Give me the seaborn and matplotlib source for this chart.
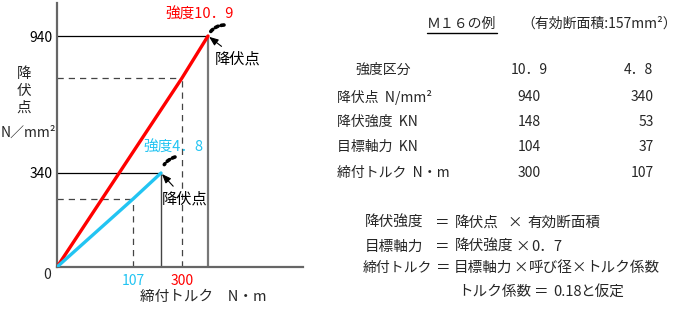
import numpy as np
import pandas as pd
import matplotlib
matplotlib.use("Agg")
import matplotlib.pyplot as plt
from matplotlib.lines import Line2D
import seaborn as sns

# ---------------- data ----------------
grades = ["10．9", "4．8"]
grade_labels = ["強度10．9", "強度4．8"]
yield_point = [940, 340]          # N/mm2
yield_strength = [148, 53]        # kN
target_force = [104, 37]          # kN
tightening_torque = [300, 107]    # N·m
target_stress = [658, 238]        # N/mm2 at target axial force (0.7 x yield)
yield_torque = [429, 153]         # N·m at yield (schematic, unlabeled)

row_labels = ["降伏点  N/mm²", "降伏強度  KN", "目標軸力  KN", "締付トルク  N・m"]
col_values = [
    [yield_point[0], yield_strength[0], target_force[0], tightening_torque[0]],
    [yield_point[1], yield_strength[1], target_force[1], tightening_torque[1]],
]

# ---------------- style / layout ----------------
W, H = 684, 316
colors = {"10．9": "#ff0000", "4．8": "#22c4f2"}

sns.set_theme(style="white")
plt.rcParams["font.family"] = ["Noto Sans CJK JP", "DejaVu Sans"]

fig = plt.figure(figsize=(W / 100, H / 100), dpi=100)
ax = fig.add_axes([57 / W, 49 / H, 246 / W, 264 / H])

# schematic (not-to-scale) axes: piecewise linear mapping value -> pixel
x_knots_val = [0, 107, 153, 300, 429, 800]
x_knots_px = [0, 76, 104, 125, 151, 246]
y_knots_val = [0, 238, 340, 658, 940, 1100]
y_knots_px = [0, 68, 94, 189, 231, 264]


def fx(v):
    return np.interp(v, x_knots_val, x_knots_px)


def fx_inv(p):
    return np.interp(p, x_knots_px, x_knots_val)


def fy(v):
    return np.interp(v, y_knots_val, y_knots_px)


def fy_inv(p):
    return np.interp(p, y_knots_px, y_knots_val)


ax.set_xscale("function", functions=(fx, fx_inv))
ax.set_yscale("function", functions=(fy, fy_inv))

# reference lines
for g, yp, yt, tt, ts in zip(grades, yield_point, yield_torque, tightening_torque, target_stress):
    ax.plot([0, yt * 0.985], [yp, yp], color="black", lw=0.9, zorder=2)
    ax.plot([yt, yt], [0, yp], color="#777777" if g == "10．9" else "#444444",
            lw=1.6 if g == "10．9" else 1.0, zorder=2)
    ax.plot([0, tt], [ts, ts], color="#444444", lw=0.9, dashes=(5, 4), zorder=2)
    ax.plot([tt, tt], [0, ts], color="#444444", lw=0.9, dashes=(5, 4), zorder=2)

# main lines
rows = []
for g, yp, yt, tt, ts in zip(grades, yield_point, yield_torque, tightening_torque, target_stress):
    for x, y in zip([0, tt, yt], [0, ts, yp]):
        rows.append({"grade": g, "torque": x, "stress": y})
df = pd.DataFrame(rows)
sns.lineplot(data=df, x="torque", y="stress", hue="grade", hue_order=grades,
             palette=colors, linewidth=2.4, legend=False, sort=False,
             estimator=None, ax=ax, zorder=4)

ax.set_xlim(0, x_knots_val[-1])
ax.set_ylim(0, y_knots_val[-1])

for side in ["top", "right"]:
    ax.spines[side].set_visible(False)
for side in ["left", "bottom"]:
    ax.spines[side].set_color("#666666")
    ax.spines[side].set_linewidth(1.6)
    ax.spines[side].set_zorder(3)

ax.set_xticks(tightening_torque)
ax.set_xticklabels([str(v) for v in tightening_torque])
for lab, g in zip(ax.get_xticklabels(), grades):
    lab.set_color(colors[g])
ax.set_yticks(yield_point)
ax.set_yticklabels([str(v) for v in yield_point])
ax.tick_params(axis="x", length=0, labelsize=10, pad=5)
ax.tick_params(axis="y", length=0, labelsize=10, pad=3.5, colors="black")
ax.set_xlabel("")
ax.set_ylabel("")

# origin label
ax.annotate("0", xy=(0, 0), xytext=(-10, -8), textcoords="offset pixels",
            ha="center", va="center", fontsize=10)

# grade labels
label_offsets = [(-8, 21), (12, 25)]
for lab, g, yp, yt, off in zip(grade_labels, grades, yield_point, yield_torque, label_offsets):
    ax.annotate(lab, xy=(yt, yp), xytext=off, textcoords="offset pixels",
                ha="center", va="center", fontsize=10.5, color=colors[g])

# yield point annotations with arrows
ann_offsets = [(30, -23), (24, -26)]
for yp, yt, off in zip(yield_point, yield_torque, ann_offsets):
    ax.annotate("降伏点", xy=(yt, yp), xytext=off, textcoords="offset pixels",
                ha="center", va="center", fontsize=11, color="black",
                arrowprops=dict(arrowstyle="-|>,head_length=0.55,head_width=0.22",
                                color="black", lw=0.8, shrinkA=1, shrinkB=1,
                                mutation_scale=10))

# small dashed "bend" marks near yield points
mark_starts = [(16, 11), (14, 16)]
mark_shrink = [3.5, 6.5]
for yp, yt, st, sh in zip(yield_point, yield_torque, mark_starts, mark_shrink):
    ax.annotate("", xy=(yt, yp), xytext=st, textcoords="offset pixels",
                arrowprops=dict(arrowstyle="-", color="black", lw=2.6,
                                linestyle=(0, (0.8, 0.9)), shrinkA=0, shrinkB=sh,
                                connectionstyle="arc3,rad=0.3"))


def ftext(x, y, s, **kw):
    kw.setdefault("va", "center")
    kw.setdefault("fontsize", 10)
    fig.text(x / W, 1 - y / H, s, **kw)


# axis titles
ftext(24, 91, "降\n伏\n点", ha="center", fontsize=10.5, linespacing=1.25)
ftext(28, 133, "N／mm²", ha="center", fontsize=10)
ftext(140, 297, "締付トルク　N・m", ha="left", fontsize=10.5)

# right-hand table
ftext(427, 24, "Ｍ１６の例", ha="left", fontsize=10)
fig.add_artist(Line2D([427 / W, 497 / W], [1 - 33 / H, 1 - 33 / H], color="black", lw=1))
ftext(521, 24, "（有効断面積:157mm²）", ha="left", fontsize=10)

ftext(355, 70, "強度区分", ha="left")
ftext(529, 70, grades[0], ha="center")
ftext(638, 70, grades[1], ha="center")
row_y = [97, 122, 147, 173]
for lab, y, v1, v2 in zip(row_labels, row_y, col_values[0], col_values[1]):
    ftext(337, y, lab, ha="left")
    ftext(541, y, str(v1), ha="right")
    ftext(654, y, str(v2), ha="right")

# formulas (x, text, horizontal alignment, font size)
formula_lines = [
    (223, [(365, "降伏強度", "left", 10.5), (442.5, "＝", "center", 10.5),
           (455, "降伏点", "left", 10.5), (515, "×", "center", 10.5),
           (527, "有効断面積", "left", 10.5)]),
    (247, [(365, "目標軸力", "left", 10.5), (442.5, "＝", "center", 10.5),
           (455, "降伏強度", "left", 10.5), (523, "×", "center", 10.5),
           (531, "0．7", "left", 10.5)]),
    (268, [(363, "締付トルク", "left", 10), (443, "＝", "center", 10.5),
           (454, "目標軸力", "left", 10.5), (521, "×", "center", 10.5),
           (529, "呼び径", "left", 10.5), (579, "×", "center", 10.5),
           (586, "トルク係数", "left", 10.5)]),
    (292, [(458, "トルク係数", "left", 10.5), (541, "＝", "center", 10.5),
           (553, "0.18", "left", 10.5), (580, "と仮定", "left", 10.5)]),
]
for y, parts in formula_lines:
    for x, s, ha, fsz in parts:
        ftext(x, y, s, ha=ha, fontsize=fsz)

fig.savefig("out.png", dpi=100)
